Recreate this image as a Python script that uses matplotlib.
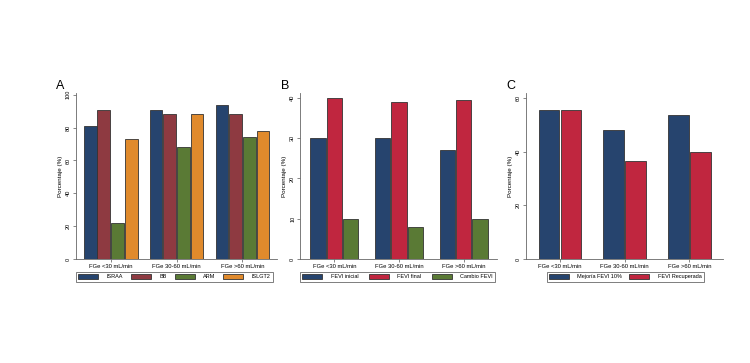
import numpy as np
import matplotlib
matplotlib.use("Agg")
from matplotlib import pyplot as plt

groups = ["FGe <30 mL/min", "FGe 30-60 mL/min", "FGe >60 mL/min"]

# Panel A
a_labels = ["ISRAA", "BB", "ARM", "ISLGT2"]
a_israa = [81, 91, 94]
a_bb = [91, 88, 88]
a_arm = [22, 68, 74]
a_islgt2 = [73, 88, 78]

# Panel B
b_labels = ["FEVI inicial", "FEVI final", "Cambio FEVI"]
b_inicial = [30, 30, 27]
b_final = [40, 39, 39.5]
b_cambio = [10, 8, 10]

# Panel C
c_labels = ["Mejoría FEVI 10%", "FEVI Recuperada"]
c_mejoria = [55.7, 48.3, 53.6]
c_recup = [55.7, 36.5, 39.8]

navy = "#26446e"
maroon = "#8e3a41"
green = "#5a7a35"
orange = "#e08a2c"
red = "#c0263f"

plt.rcParams['font.family'] = ['Liberation Sans', 'DejaVu Sans']

fig = plt.figure(figsize=(7.5, 3.63), dpi=100)
fig.patch.set_facecolor("white")


def panel(rect, letter, series, labels, colors, group_w, ylim, yticks, leg_box):
    ax = fig.add_axes(rect)
    n = len(series)
    x = np.arange(len(groups))
    w = group_w / n
    for i, (vals, lab, col) in enumerate(zip(series, labels, colors)):
        ax.bar(x - group_w / 2 + w * (i + 0.5), vals, width=w * 0.93, color=col,
               edgecolor="#333333", linewidth=0.6, label=lab)
    ax.set_xlim(-0.5 - 0.03, 2.5 + 0.02)
    ax.set_ylim(*ylim)
    ax.set_yticks(yticks)
    ax.set_yticklabels([str(t) for t in yticks], rotation=90, va="center", fontsize=4)
    ax.set_xticks(x)
    ax.set_xticklabels(groups, fontsize=4.2)
    ax.tick_params(axis="both", length=2, width=0.5, color="#555555", pad=1.5)
    for s in ["top", "right"]:
        ax.spines[s].set_visible(False)
    for s in ["left", "bottom"]:
        ax.spines[s].set_color("#666666")
        ax.spines[s].set_linewidth(0.6)
    ax.set_ylabel("Porcentaje (%)", fontsize=4.5, labelpad=2)
    leg = ax.legend(loc="upper left", bbox_to_anchor=(leg_box[0], -0.078, leg_box[1], 0),
                    mode="expand", ncol=len(series),
                    fontsize=4, frameon=True, fancybox=False, edgecolor="#444444",
                    handlelength=3.6, handleheight=0.9, columnspacing=1.0,
                    borderpad=0.4, handletextpad=1.5, borderaxespad=0)
    leg.get_frame().set_linewidth(0.6)
    fig.text(rect[0] - 0.026, rect[1] + rect[3] + 0.003, letter, fontsize=9, va="bottom")
    return ax


bottom = 0.2865
height = 0.457
panel([0.101, bottom, 0.268, height], "A",
      [a_israa, a_bb, a_arm, a_islgt2], a_labels, [navy, maroon, green, orange],
      0.83, (0, 101), [0, 20, 40, 60, 80, 100], (0.0, 0.98))
panel([0.400, bottom, 0.263, height], "B",
      [b_inicial, b_final, b_cambio], b_labels, [navy, red, green],
      0.76, (0, 41.2), [0, 10, 20, 30, 40], (0.0, 0.99))
panel([0.701, bottom, 0.263, height], "C",
      [c_mejoria, c_recup], c_labels, [navy, red],
      0.68, (0, 61.9), [0, 20, 40, 60], (0.107, 0.795))

fig.savefig("out.png", dpi=100, facecolor="white")
